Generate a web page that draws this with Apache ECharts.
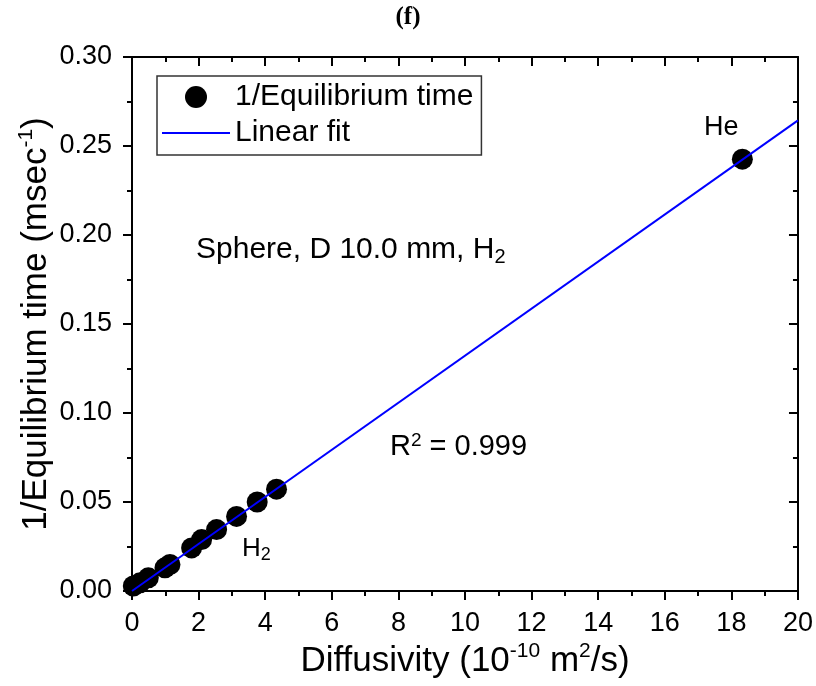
<!DOCTYPE html>
<html>
<head>
<meta charset="utf-8">
<script src="https://cdn.jsdelivr.net/npm/echarts@6/dist/echarts.min.js"></script>
<style>
html,body{margin:0;padding:0;background:#fff;}
#chart{width:816px;height:686px;}
</style>
</head>
<body>
<div id="chart"></div>
<script>
// Data
var diffusivity = [0.04, 0.24, 0.49, 0.99, 1.14, 1.79, 2.09, 2.54, 3.14, 3.76, 4.34, 18.33];
var invEqTime   = [0.0028, 0.0046, 0.0074, 0.0130, 0.0149, 0.0242, 0.0289, 0.0345, 0.0419, 0.0500, 0.0572, 0.2426];
var fitX = [0, 20];
var fitY = [0.0, 0.2644];
var xTicks = [0, 2, 4, 6, 8, 10, 12, 14, 16, 18, 20];
var yTicks = [0.00, 0.05, 0.10, 0.15, 0.20, 0.25, 0.30];

var scatterData = diffusivity.map(function(x, i){ return [x, invEqTime[i]]; });
var fitData = fitX.map(function(x, i){ return [x, fitY[i]]; });

var FONT = 'Liberation Sans, Arial, sans-serif';
var chart = echarts.init(document.getElementById('chart'), null, {renderer:'canvas'});

function axisCommon(pos, isX){
  return {
    type:'value',
    position: pos,
    min: isX ? xTicks[0] : yTicks[0],
    max: isX ? xTicks[xTicks.length-1] : yTicks[yTicks.length-1],
    interval: isX ? 2 : 0.05,
    axisLine:{show:true, onZero:false, lineStyle:{color:'#000', width:2}},
    axisTick:{show:true, inside: (pos==='top'||pos==='right'), length:9, lineStyle:{color:'#000', width:2}},
    minorTick:{show:true, splitNumber:2, length:5, lineStyle:{color:'#000', width:2}},
    splitLine:{show:false},
    minorSplitLine:{show:false}
  };
}
var supStyle = {fontFamily:FONT, fontSize:21, lineHeight:40, verticalAlign:'top', padding:[0,0,14,0], color:'#000'};

var xBottom = axisCommon('bottom', true);
xBottom.axisLabel = {show:true, color:'#000', fontFamily:FONT, fontSize:27, margin:19};
xBottom.name = 'Diffusivity (10{sup|-10} m{sup|2}/s)';
xBottom.nameLocation = 'middle';
xBottom.nameGap = 50;
xBottom.nameMoveOverlap = false;
xBottom.nameTextStyle = {color:'#000', fontFamily:FONT, fontSize:35, lineHeight:40, rich:{sup:supStyle}};

var xTop = axisCommon('top', true);
xTop.axisLabel = {show:false};

var yLeft = axisCommon('left', false);
yLeft.axisLabel = {show:true, color:'#000', fontFamily:FONT, fontSize:27, margin:20,
  formatter:function(v){ return v.toFixed(2); }};
yLeft.name = '1/Equilibrium time (msec{sup|-1})';
yLeft.nameLocation = 'middle';
yLeft.nameGap = 76;
yLeft.nameMoveOverlap = false;
yLeft.nameTextStyle = {color:'#000', fontFamily:FONT, fontSize:35, lineHeight:40, rich:{sup:supStyle}};

var yRight = axisCommon('right', false);
yRight.axisLabel = {show:false};

var option = {
  animation:false,
  backgroundColor:'#fff',
  title:{text:'(f)', left:'center', top:0, textStyle:{fontFamily:'Liberation Serif, Times New Roman, serif', fontWeight:'bold', fontSize:25, color:'#000'}},
  grid:{left:132, right:17, top:57, bottom:91, containLabel:false},
  xAxis:[xBottom, xTop],
  yAxis:[yLeft, yRight],
  legend:{
    orient:'vertical', left:157, top:76,
    borderColor:'#333', borderWidth:1.5, borderRadius:0,
    padding:[6,8,7,5], itemGap:6,
    itemWidth:68, itemHeight:22,
    textStyle:{fontFamily:FONT, fontSize:30, color:'#000'},
    data:[
      {name:'1/Equilibrium time', icon:'circle'},
      {name:'Linear fit', icon:'path://M0,0 L68,0 L68,2 L0,2 Z'}
    ]
  },
  series:[
    {name:'Linear fit', type:'line', data:fitData, symbol:'none', showSymbol:false,
     lineStyle:{color:'#0000ff', width:2}, itemStyle:{color:'#0000ff'}, z:3, silent:true},
    {name:'1/Equilibrium time', type:'scatter', data:scatterData, symbol:'circle', symbolSize:21,
     itemStyle:{color:'#000', opacity:1}, z:2}
  ],
  graphic:[
    {type:'text', left:196, top:235, style:{text:'Sphere, D 10.0 mm, H{sub|2}', fill:'#000', font:'30px '+FONT,
      rich:{sub:{fontSize:20, fill:'#000', verticalAlign:'bottom', padding:[14,0,0,0]}}}},
    {type:'text', left:390, top:431, style:{text:'R{sup|2} = 0.999', fill:'#000', font:'29px '+FONT,
      rich:{sup:{fontSize:19, fill:'#000', verticalAlign:'top', padding:[0,0,13,0]}}}},
    {type:'text', left:242, top:536, style:{text:'H{sub|2}', fill:'#000', font:'26px '+FONT,
      rich:{sub:{fontSize:18, fill:'#000', verticalAlign:'bottom', padding:[12,0,0,0]}}}},
    {type:'text', left:704, top:114, style:{text:'He', fill:'#000', font:'27px '+FONT}}
  ]
};
chart.setOption(option);
</script>
</body>
</html>
